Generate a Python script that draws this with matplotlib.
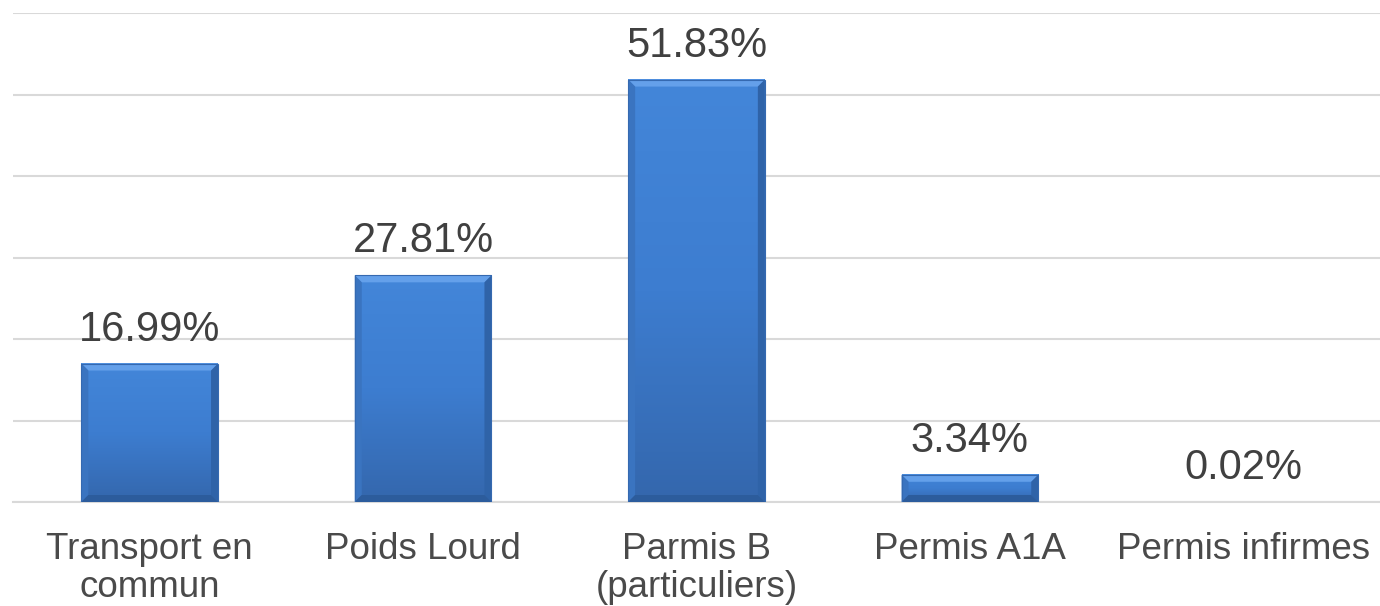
import numpy as np
import matplotlib
matplotlib.use("Agg")
import matplotlib.pyplot as plt
from matplotlib.colors import LinearSegmentedColormap
from matplotlib.patches import Polygon, Rectangle

categories = ["Transport en\ncommun", "Poids Lourd", "Parmis B\n(particuliers)", "Permis A1A", "Permis infirmes"]
values = [16.99, 27.81, 51.83, 3.34, 0.02]
value_labels = ["16.99%", "27.81%", "51.83%", "3.34%", "0.02%"]

plt.rcParams["font.family"] = ["Liberation Sans", "DejaVu Sans"]

fig = plt.figure(figsize=(13.8, 6.06), dpi=100)
ax = fig.add_axes([13 / 1380, 104 / 606, 1 - 13 / 1380, (502 - 13) / 606])

x = np.arange(len(categories))
bars = ax.bar(x, values, width=0.5, color="#3b7bcf", linewidth=0, zorder=3)

# bevel shading like the office chart
cmap = LinearSegmentedColormap.from_list("body", ["#3467ad", "#3d7dd0", "#4386d9"])
px_x = (1380 - 13) / 5.0     # pixels per x unit
px_y = 489 / 60.0            # pixels per y unit
for b in bars:
    h = b.get_height()
    if h < 0.05:
        continue
    x0, w = b.get_x(), b.get_width()
    x1 = x0 + w
    grad = np.linspace(0, 1, 100)[:, None] * np.ones((1, 10))
    ax.imshow(grad, cmap=cmap, vmin=0, vmax=1, origin="lower", aspect="auto",
              extent=(x0, x1, 0, h), zorder=3.5, interpolation="bilinear")
    bx = 7 / px_x
    by = min(7 / px_y, h / 2.5)
    # top bevel
    ax.add_patch(Polygon([(x0, h), (x1, h), (x1 - bx, h - by), (x0 + bx, h - by)],
                         closed=True, facecolor="#64a0ea", edgecolor="none", zorder=4))
    # sides
    ax.add_patch(Polygon([(x0, 0), (x0, h), (x0 + bx, h - by), (x0 + bx, by)],
                         closed=True, facecolor="#3a74c0", edgecolor="none", zorder=4))
    ax.add_patch(Polygon([(x1, 0), (x1, h), (x1 - bx, h - by), (x1 - bx, by)],
                         closed=True, facecolor="#2f63a8", edgecolor="none", zorder=4))
    # bottom
    ax.add_patch(Polygon([(x0, 0), (x1, 0), (x1 - bx, by), (x0 + bx, by)],
                         closed=True, facecolor="#2c5c9c", edgecolor="none", zorder=4))
    ax.add_patch(Rectangle((x0, 0), w, h, fill=False, edgecolor="#3569b0", linewidth=0.8, zorder=4.5))

for xi, v, lab in zip(x, values, value_labels):
    ax.annotate(lab, (xi, v), xytext=(0, 10), textcoords="offset points",
                ha="center", va="bottom", fontsize=30, color="#404040")

ax.set_xlim(-0.5, len(categories) - 0.5)
ax.set_ylim(0, 60)
ax.set_yticks(np.arange(0, 61, 10))
ax.yaxis.grid(True, color="#d9d9d9", linewidth=1.5, zorder=0)
ax.set_axisbelow(True)
ax.tick_params(left=False, labelleft=False, bottom=False)
ax.set_xticks(x)
ax.set_xticklabels(categories, fontsize=26.5, color="#4a4a4a", linespacing=1.1)
ax.tick_params(axis="x", pad=18)
for s in ["top", "right", "left"]:
    ax.spines[s].set_visible(False)
ax.spines["bottom"].set_color("#d9d9d9")
ax.spines["bottom"].set_linewidth(1.5)

fig.savefig("out.png", dpi=100)
